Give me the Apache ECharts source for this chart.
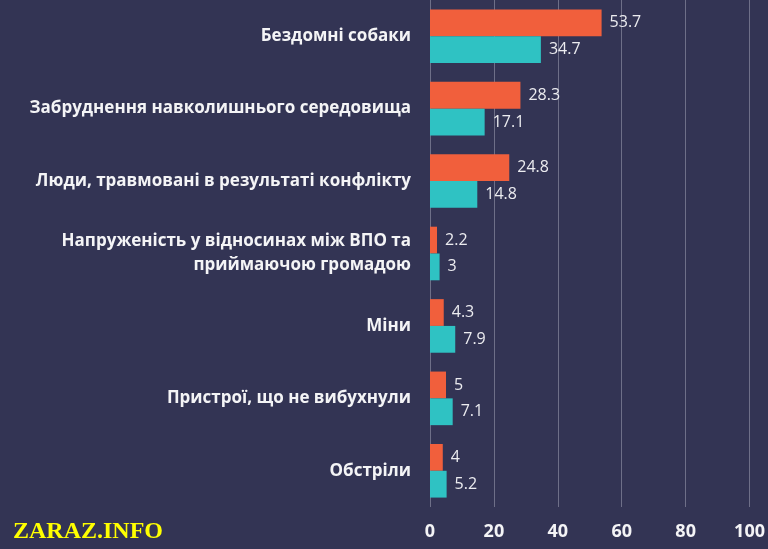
<!DOCTYPE html>
<html>
<head>
<meta charset="utf-8">
<script src="https://cdn.jsdelivr.net/npm/echarts@6/dist/echarts.min.js"></script>
<style>
  html, body { margin: 0; padding: 0; background: #333454; }
  #chart { width: 768px; height: 549px; }
</style>
</head>
<body>
<div id="chart"></div>
<script>
const categories = [
  'Бездомні собаки',
  'Забруднення навколишнього середовища',
  'Люди, травмовані в результаті конфлікту',
  'Напруженість у відносинах між ВПО та\nприймаючою громадою',
  'Міни',
  'Пристрої, що не вибухнули',
  'Обстріли'
];
const orangeValues = [53.7, 28.3, 24.8, 2.2, 4.3, 5, 4];
const tealValues = [34.7, 17.1, 14.8, 3, 7.9, 7.1, 5.2];
const xTicks = [0, 20, 40, 60, 80, 100];

const chart = echarts.init(document.getElementById('chart'));

const labelStyle = {
  show: true,
  position: 'right',
  distance: 8,
  color: '#ececf0',
  fontFamily: 'Open Sans',
  fontSize: 16
};

const option = {
  backgroundColor: '#333454',
  animation: false,
  grid: { left: 430, right: 15, top: -5, bottom: 42, containLabel: false },
  xAxis: {
    type: 'value',
    min: xTicks[0],
    max: xTicks[xTicks.length - 1],
    interval: 20,
    axisLine: { show: false },
    axisTick: { show: false },
    splitLine: { show: true, lineStyle: { color: '#6e6f88', width: 1 } },
    axisLabel: {
      color: '#f4f4f6',
      fontFamily: 'Open Sans',
      fontWeight: 'bold',
      fontSize: 18,
      margin: 16
    }
  },
  yAxis: {
    type: 'category',
    inverse: true,
    data: categories,
    axisLine: { show: false },
    axisTick: { show: false },
    axisLabel: {
      color: '#f4f4f6',
      fontFamily: 'Open Sans',
      fontWeight: 'bold',
      fontSize: 17,
      lineHeight: 24,
      align: 'right',
      margin: 19
    }
  },
  series: [
    {
      name: 'A',
      type: 'bar',
      data: orangeValues,
      barGap: '0%',
      barCategoryGap: '26%',
      itemStyle: { color: '#f15f3c' },
      label: labelStyle
    },
    {
      name: 'B',
      type: 'bar',
      data: tealValues,
      itemStyle: { color: '#2fc2c3' },
      label: labelStyle
    }
  ],
  graphic: [
    {
      type: 'text',
      left: 13,
      top: 520,
      style: {
        text: 'ZARAZ.INFO',
        fill: '#ffff00',
        font: 'bold 24px "Liberation Serif", "DejaVu Serif", serif'
      }
    }
  ]
};

chart.setOption(option);
window.addEventListener('resize', () => {
  chart.resize();
});
</script>
</body>
</html>
